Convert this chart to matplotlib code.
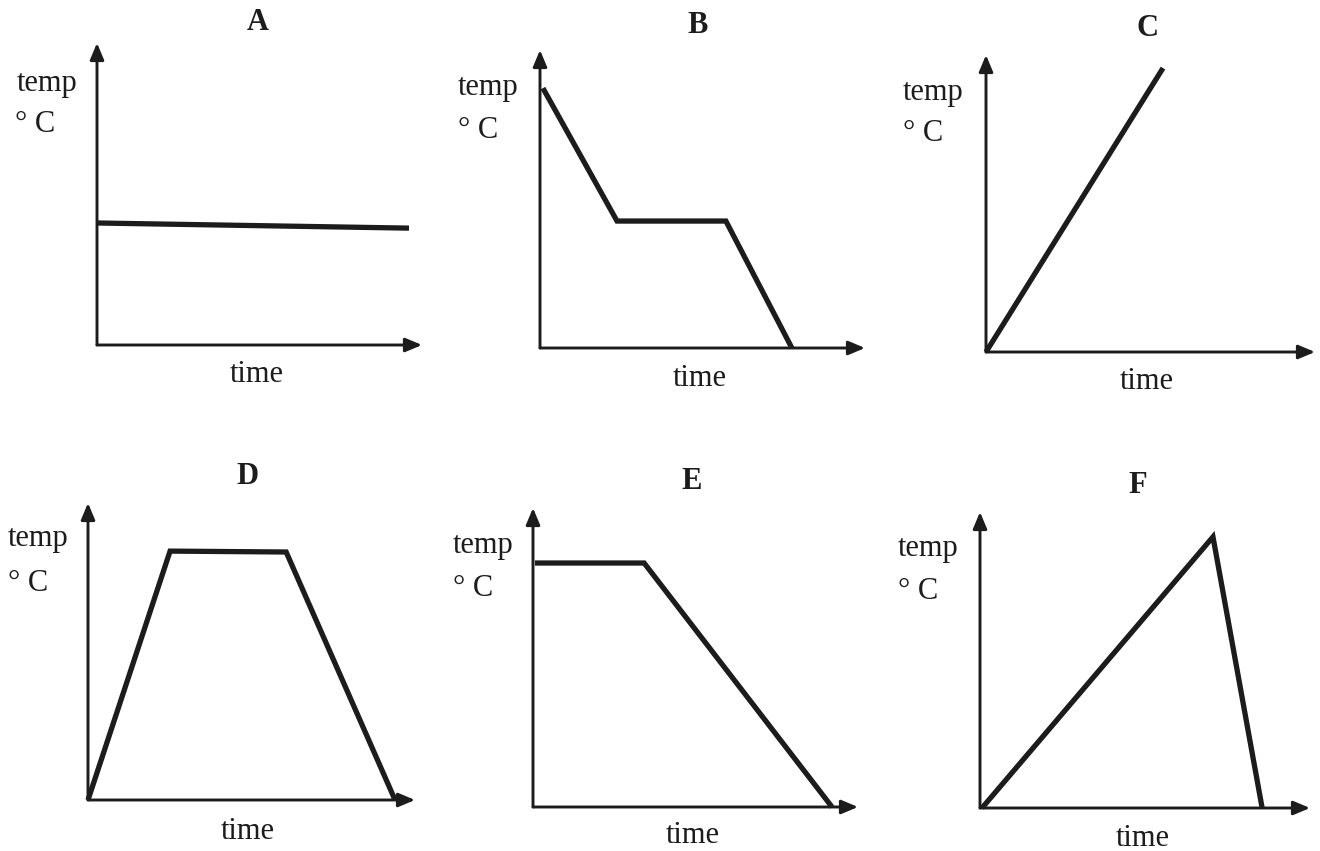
"""
Six sketch graphs of temperature against time (A to F).
"""

import matplotlib
matplotlib.use("Agg")
import matplotlib.pyplot as plt

W, H = 1320, 851
INK = "#1c1c1c"

# Panel names
panels = ["A", "B", "C", "D", "E", "F"]

# Curve points, as percent of the drawn axis length (time, temp)
time_a = [0, 96]
temp_a = [40.4, 38.7]
time_b = [0.9, 23.7, 57.2, 77.5]
temp_b = [87.2, 42.6, 42.6, 0]
time_c = [0, 53.8]
temp_c = [0, 95.6]
time_d = [0, 25.1, 60.6, 93.9]
temp_d = [0, 83.8, 83.5, 0]
time_e = [0.6, 34.2, 92.0]
temp_e = [81.6, 81.6, 0]
time_f = [0.6, 70.6, 85.5]
temp_f = [0, 91.6, 0]

curves = {
    "A": (time_a, temp_a), "B": (time_b, temp_b), "C": (time_c, temp_c),
    "D": (time_d, temp_d), "E": (time_e, temp_e), "F": (time_f, temp_f),
}

# Layout in pixels: origin x, origin y, x-arrow tip, y-arrow tip
axes_px = {
    "A": (97, 345, 422, 43),
    "B": (540, 348, 865, 50),
    "C": (986, 352, 1315, 55),
    "D": (88, 800, 415, 503),
    "E": (533, 807, 858, 508),
    "F": (980, 808, 1310, 512),
}
# Text anchors in pixels: temp (left, baseline), deg C (left, baseline),
# time (centre, baseline), title (centre, baseline)
text_px = {
    "A": ((17, 91), (15, 132), (257, 382), (258, 30)),
    "B": ((458, 95), (458, 138), (700, 386), (698, 33)),
    "C": ((903, 100), (903, 141), (1147, 389), (1147, 36)),
    "D": ((8, 546), (8, 591), (248, 839), (248, 484)),
    "E": ((453, 553), (453, 596), (693, 843), (692, 489)),
    "F": ((898, 556), (898, 599), (1143, 846), (1138, 493)),
}


def fx(x):
    return x / W


def fy(y):
    return 1 - y / H


def _panel(fig, name):
    ox, oy, tx, ty = axes_px[name]
    ax = fig.add_axes([fx(ox), fy(oy), (tx - ox) / W, (oy - ty) / H])
    ax.set_xlim(0, 100)
    ax.set_ylim(0, 100)
    ax.axis("off")

    arrow = dict(arrowstyle="-|>,head_length=1.0,head_width=0.42",
                 lw=2.1, color=INK, shrinkA=0, shrinkB=0)
    ax.annotate("", xy=(1, 0), xytext=(0, 0), xycoords="axes fraction",
                arrowprops=arrow)
    ax.annotate("", xy=(0, 1), xytext=(0, 0), xycoords="axes fraction",
                arrowprops=arrow)

    t, v = curves[name]
    ax.plot(t, v, color=INK, lw=3.8, solid_joinstyle="miter",
            solid_capstyle="butt", clip_on=False)

    temp_pos, deg_pos, time_pos, title_pos = text_px[name]
    font = dict(family="Liberation Serif", size=22, color=INK)
    fig.text(fx(temp_pos[0]), fy(temp_pos[1]), "temp", ha="left",
             va="baseline", **font)
    fig.text(fx(deg_pos[0]), fy(deg_pos[1]), "° C", ha="left",
             va="baseline", **font)
    fig.text(fx(time_pos[0]), fy(time_pos[1]), "time", ha="center",
             va="baseline", **font)
    fig.text(fx(title_pos[0]), fy(title_pos[1]), name, ha="center",
             va="baseline", fontweight="bold", **font)


def main():
    fig = plt.figure(figsize=(W / 100, H / 100), dpi=100)
    fig.patch.set_facecolor("white")
    for name in panels:
        _panel(fig, name)
    fig.savefig("out.png", dpi=100, facecolor="white")


if __name__ == "__main__":
    main()
